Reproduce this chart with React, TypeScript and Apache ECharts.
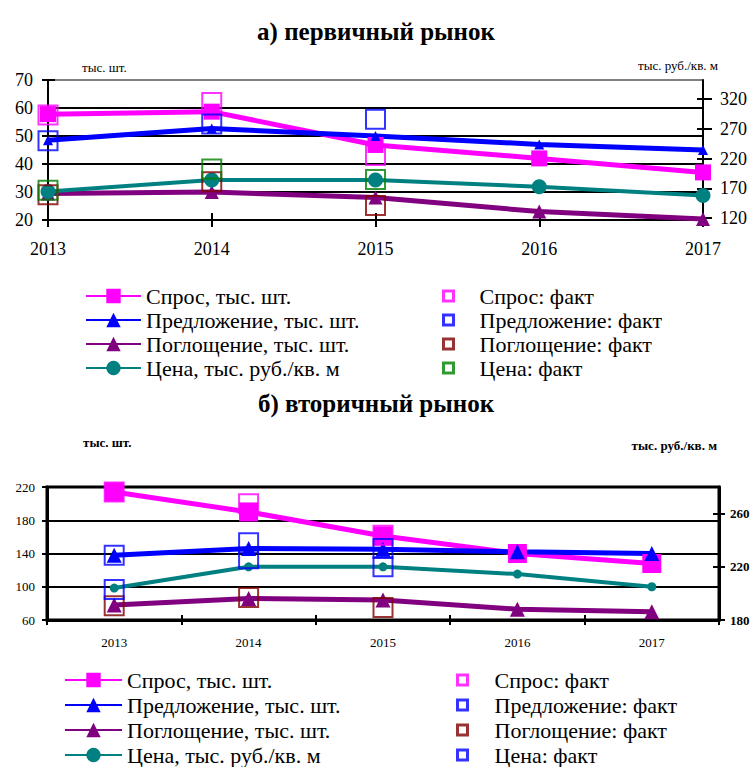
import React, { useEffect, useRef } from "react";
import * as echarts from "echarts";

const FONT = "Liberation Serif";

const years = ["2013", "2014", "2015", "2016", "2017"];
const lineNames = ["Спрос, тыс. шт.", "Предложение, тыс. шт.", "Поглощение, тыс. шт.", "Цена, тыс. руб./кв. м"];
const factNames = ["Спрос: факт", "Предложение: факт", "Поглощение: факт", "Цена: факт"];

// а) первичный рынок
const pDemand = [57.8, 58.7, 46.8, 42, 37];
const pSupply = [48.5, 52.7, 50, 47, 45];
const pAbsorb = [29.5, 30, 28, 23, 20.4];
const pPrice = [165, 184, 184, 173, 158];
const pDemandFact = [57.5, 62, 43];
const pSupplyFact = [48.3, 54.3, 56];
const pAbsorbFact = [29, 33.7, 25.2];
const pPriceFact = [167, 202.6, 185];
const pLeftTicks = [20, 70, 10];
const pRightTicks = [120, 170, 220, 270, 320];
const pRightRange = [117, 352];

// б) вторичный рынок
const sDemand = [214, 190, 161, 140, 128];
const sSupply = [138, 146, 145, 142, 140];
const sAbsorb = [78, 86, 84, 73, 70];
const sPrice = [204, 220, 220, 214.5, 205];
const sDemandFact = [214, 200, 162];
const sSupplyFact = [138, 153, 146];
const sAbsorbFact = [77, 87, 75];
const sPriceFact = [203, 226, 220];
const sLeftTicks = [60, 220, 40];
const sRightTicks = [180, 220, 260];
const sRightRange = [180, 280];

const MAGENTA = "#FF00FF";
const BLUE = "#0000FF";
const PURPLE = "#800080";
const TEAL = "#008080";
const DARKRED = "#800000";
const GREEN = "#008000";

function lineSeries(name: string, data: number[], color: string, width: number, symbol: string, size: number, yAxisIndex = 0) {
  return {
    type: "line",
    name,
    data,
    xAxisIndex: 0,
    yAxisIndex,
    symbol,
    symbolSize: size,
    showSymbol: true,
    lineStyle: { color, width },
    itemStyle: { color },
    z: 2,
  };
}

function factSeries(name: string, data: number[], color: string, size: number, yAxisIndex = 0) {
  return {
    type: "scatter",
    name,
    data,
    xAxisIndex: 0,
    yAxisIndex,
    symbol: "rect",
    symbolSize: size,
    itemStyle: { color: "rgba(255,255,255,0)", borderColor: color, borderWidth: 2 },
    z: 3,
  };
}

function legends(lx: number, rx: number, top: number, gap: number, lw: number, pad: number, factColors: string[]) {
  const ts = { fontFamily: FONT, fontSize: 22, color: "#000" };
  return [
    {
      orient: "vertical",
      left: lx,
      top,
      padding: 0,
      itemGap: gap,
      itemWidth: lw,
      itemHeight: 18,
      selectedMode: false,
      data: lineNames,
      textStyle: ts,
    },
    {
      orient: "vertical",
      left: rx,
      top,
      padding: 0,
      itemGap: gap,
      itemWidth: 10,
      itemHeight: 10,
      selectedMode: false,
      data: factNames.map((n, i) => ({
        name: n,
        icon: "rect",
        itemStyle: { color: "#fff", borderColor: factColors[i], borderWidth: 3 },
      })),
      textStyle: { ...ts, padding: [0, 0, 0, pad] },
    },
  ];
}

const black = (w: number) => ({ color: "#000", width: w });

function txt(text: string, x: number, y: number, size: number, bold: boolean, align: string) {
  return {
    type: "text",
    x,
    y,
    style: {
      text,
      fontFamily: FONT,
      fontSize: size,
      fontWeight: bold ? "bold" : "normal",
      fill: "#000",
      textAlign: align,
      align,
      textVerticalAlign: "middle",
      verticalAlign: "middle",
    },
  };
}

function optionTop() {
  const lab = { fontFamily: FONT, fontSize: 18, color: "#000" };
  return {
    animation: false,
    backgroundColor: "transparent",
    textStyle: { fontFamily: FONT },
    graphic: [
      txt("а) первичный рынок", 376, 31, 25, true, "center"),
      txt("тыс. шт.", 82, 67, 13, false, "left"),
      txt("тыс. руб./кв. м", 718, 65, 13, false, "right"),
    ],
    grid: { left: 48, top: 80, width: 655, height: 140 },
    xAxis: [
      { type: "category", data: years, boundaryGap: false, position: "bottom", axisLine: { onZero: false, lineStyle: black(2) }, axisTick: { show: true, length: 7, lineStyle: black(2) }, axisLabel: { ...lab, margin: 20 }, splitLine: { show: false } },
      { type: "category", data: years, boundaryGap: false, position: "bottom", axisLine: { show: false, onZero: false }, axisTick: { show: true, inside: true, length: 7, lineStyle: black(2) }, axisLabel: { show: false }, splitLine: { show: false } },
    ],
    yAxis: [
      { type: "value", position: "left", min: pLeftTicks[0], max: pLeftTicks[1], interval: pLeftTicks[2], axisLine: { show: true, onZero: false, lineStyle: black(2) }, axisTick: { show: true, length: 6, lineStyle: black(2) }, axisLabel: { ...lab, margin: 15 }, splitLine: { show: true, lineStyle: { color: ["#000", "#000", "#000", "#000", "#000", "#808080"], width: 2 } } },
      { type: "value", position: "left", min: pLeftTicks[0], max: pLeftTicks[1], interval: pLeftTicks[2], axisLine: { show: false, onZero: false }, axisTick: { show: true, inside: true, length: 7, lineStyle: black(2) }, axisLabel: { show: false }, splitLine: { show: false } },
      { type: "value", position: "right", min: pRightRange[0], max: pRightRange[1], axisLine: { show: true, onZero: false, lineStyle: black(2) }, axisTick: { show: true, length: 9, lineStyle: black(2), customValues: pRightTicks }, axisLabel: { ...lab, margin: 17, customValues: pRightTicks }, splitLine: { show: false } },
      { type: "value", position: "right", min: pRightRange[0], max: pRightRange[1], axisLine: { show: false, onZero: false }, axisTick: { show: true, inside: true, length: 6, lineStyle: black(2), customValues: pRightTicks }, axisLabel: { show: false }, splitLine: { show: false } },
    ],
    legend: legends(85, 442, 285, 2, 55, 21, [MAGENTA, BLUE, DARKRED, GREEN]),
    series: [
      lineSeries(lineNames[0], pDemand, MAGENTA, 5, "rect", 16),
      lineSeries(lineNames[1], pSupply, BLUE, 5, "triangle", 10),
      lineSeries(lineNames[2], pAbsorb, PURPLE, 5, "triangle", 14),
      lineSeries(lineNames[3], pPrice, TEAL, 4, "circle", 15, 2),
      factSeries(factNames[0], pDemandFact, MAGENTA, 19),
      factSeries(factNames[1], pSupplyFact, BLUE, 19),
      factSeries(factNames[2], pAbsorbFact, DARKRED, 19),
      factSeries(factNames[3], pPriceFact, GREEN, 19, 2),
    ],
  };
}

function optionBottom() {
  const lab = { fontFamily: FONT, fontSize: 13, color: "#000" };
  return {
    animation: false,
    backgroundColor: "transparent",
    textStyle: { fontFamily: FONT },
    graphic: [
      txt("б) вторичный рынок", 376, 403, 25, true, "center"),
      txt("тыс. шт.", 83, 442, 13, true, "left"),
      txt("тыс. руб./кв. м", 717, 445, 13, true, "right"),
    ],
    grid: { left: 47, top: 487, width: 672, height: 133, show: true, borderColor: "#000", borderWidth: 3, backgroundColor: "transparent" },
    xAxis: [
      { type: "category", data: years, boundaryGap: true, position: "bottom", axisLine: { onZero: false, lineStyle: black(3) }, axisTick: { show: true, length: 5, lineStyle: black(2) }, axisLabel: { ...lab, margin: 16 }, splitLine: { show: false } },
      { type: "category", data: years, boundaryGap: true, position: "bottom", axisLine: { show: false, onZero: false }, axisTick: { show: true, inside: true, length: 5, lineStyle: black(2) }, axisLabel: { show: false }, splitLine: { show: false } },
    ],
    yAxis: [
      { type: "value", position: "left", min: sLeftTicks[0], max: sLeftTicks[1], interval: sLeftTicks[2], axisLine: { show: true, onZero: false, lineStyle: black(3) }, axisTick: { show: true, length: 5, lineStyle: black(2) }, axisLabel: { ...lab, margin: 12 }, splitLine: { show: true, lineStyle: { color: "#000", width: 2 } } },
      { type: "value", position: "right", min: sRightRange[0], max: sRightRange[1], axisLine: { show: true, onZero: false, lineStyle: black(3) }, axisTick: { show: true, length: 6, lineStyle: black(2), customValues: sRightTicks }, axisLabel: { ...lab, fontWeight: "bold", margin: 11, customValues: sRightTicks }, splitLine: { show: false } },
      { type: "value", position: "right", min: sRightRange[0], max: sRightRange[1], axisLine: { show: false, onZero: false }, axisTick: { show: true, inside: true, length: 6, lineStyle: black(2), customValues: sRightTicks }, axisLabel: { show: false }, splitLine: { show: false } },
    ],
    legend: legends(64, 456, 669, 3, 57, 22, [MAGENTA, BLUE, DARKRED, BLUE]),
    series: [
      lineSeries(lineNames[0], sDemand, MAGENTA, 5, "rect", 19),
      lineSeries(lineNames[1], sSupply, BLUE, 5, "triangle", 15),
      lineSeries(lineNames[2], sAbsorb, PURPLE, 5, "triangle", 15),
      lineSeries(lineNames[3], sPrice, TEAL, 4, "circle", 9, 1),
      factSeries(factNames[0], sDemandFact, MAGENTA, 19),
      factSeries(factNames[1], sSupplyFact, BLUE, 19),
      factSeries(factNames[2], sAbsorbFact, DARKRED, 19),
      factSeries(factNames[3], sPriceFact, BLUE, 19, 1),
    ],
  };
}

export default function App() {
  const r1 = useRef<HTMLDivElement>(null);
  const r2 = useRef<HTMLDivElement>(null);
  useEffect(() => {
    const c1 = echarts.init(r1.current as HTMLDivElement, null, { renderer: "svg" });
    const c2 = echarts.init(r2.current as HTMLDivElement, null, { renderer: "svg" });
    c1.setOption(optionTop() as any);
    c2.setOption(optionBottom() as any);
    return () => {
      c1.dispose();
      c2.dispose();
    };
  }, []);
  const outer: React.CSSProperties = { position: "absolute", left: 0, top: 0, width: 753, height: 767, overflow: "hidden", background: "#fff" };
  const box: React.CSSProperties = { position: "absolute", left: 0, top: 0, width: 753, height: 820 };
  return (
    <div style={outer}>
      <div ref={r2} style={box} />
      <div ref={r1} style={box} />
    </div>
  );
}
